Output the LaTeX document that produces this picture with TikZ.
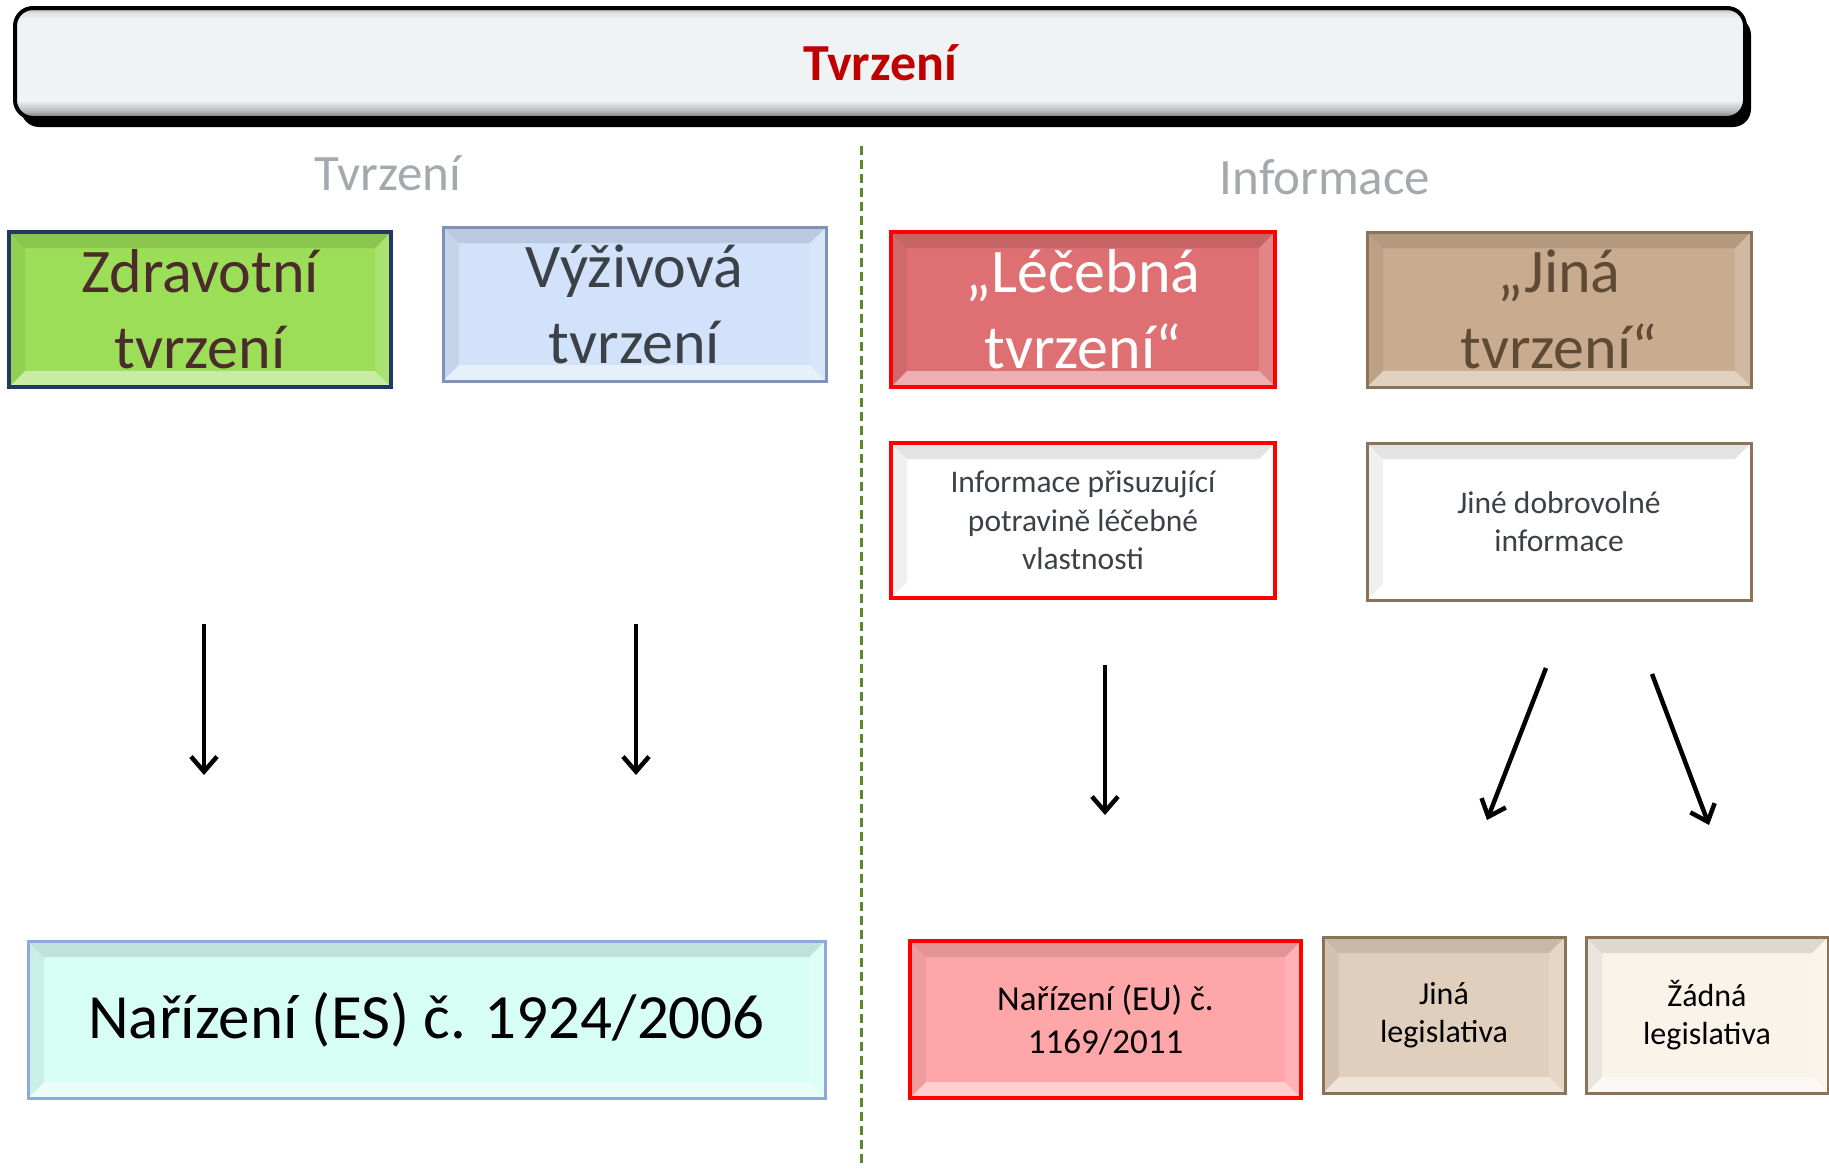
\documentclass[tikz,border=0pt]{standalone}
\usepackage{fontspec}
\setmainfont{Carlito}
\usetikzlibrary{arrows.meta,shadows}
\newcommand\myfs[2]{\fontsize{#1}{#2}\selectfont}
\definecolor{titlered}{HTML}{C00000}
\definecolor{hdrgray}{HTML}{A3AAAE}
\definecolor{grfill}{HTML}{9CDE58}
\definecolor{grline}{HTML}{1F3864}
\definecolor{grtext}{HTML}{4B2B2B}
\definecolor{blfill}{HTML}{D2E2FA}
\definecolor{blline}{HTML}{7F93B8}
\definecolor{dktext}{HTML}{3B4147}
\definecolor{rdfill}{HTML}{DE7073}
\definecolor{rdline}{HTML}{FF0000}
\definecolor{tnfill}{HTML}{C9AC8F}
\definecolor{tnline}{HTML}{8B7359}
\definecolor{tntext}{HTML}{5F4A35}
\definecolor{esfill}{HTML}{D7FEF5}
\definecolor{esline}{HTML}{8EA9DB}
\definecolor{eufill}{HTML}{FFA6A8}
\definecolor{jlfill}{HTML}{E1CFBD}
\definecolor{zlfill}{HTML}{FAF3EA}
\definecolor{dashgreen}{HTML}{5A8A2A}
\definecolor{bA}{HTML}{6E7072}
\definecolor{bB}{HTML}{B5B8BA}
\definecolor{bC}{HTML}{EFF3F4}
\definecolor{bD}{HTML}{DDE0E1}
\definecolor{bE}{HTML}{9FA2A4}
\pgfdeclareverticalshading{barshade}{100bp}{color(0bp)=(bA); color(25bp)=(bA); color(28bp)=(bB); color(33bp)=(bC); color(70bp)=(bC); color(73bp)=(bD); color(75bp)=(bE); color(100bp)=(bE)}
\tikzset{
  bev/.style={path picture={
    \fill[black,opacity=0.11] (path picture bounding box.north west) -- (path picture bounding box.north east) -- ([xshift=-#1,yshift=-#1]path picture bounding box.north east) -- ([xshift=#1,yshift=-#1]path picture bounding box.north west) -- cycle;
    \fill[white,opacity=0.45] (path picture bounding box.south west) -- (path picture bounding box.south east) -- ([xshift=-#1,yshift=#1]path picture bounding box.south east) -- ([xshift=#1,yshift=#1]path picture bounding box.south west) -- cycle;
    \fill[black,opacity=0.06] (path picture bounding box.north west) -- (path picture bounding box.south west) -- ([xshift=#1,yshift=#1]path picture bounding box.south west) -- ([xshift=#1,yshift=-#1]path picture bounding box.north west) -- cycle;
    \fill[white,opacity=0.15] (path picture bounding box.north east) -- (path picture bounding box.south east) -- ([xshift=-#1,yshift=#1]path picture bounding box.south east) -- ([xshift=-#1,yshift=-#1]path picture bounding box.north east) -- cycle;
  }},
  box/.style={draw, rectangle, inner sep=0pt, align=center, bev=16pt},
  hdr/.style={text=hdrgray, font=\myfs{51}{60}, inner sep=0pt},
  conn/.style={line width=4.5pt, -{Straight Barb[length=15pt,width=26pt]}},
}
\begin{document}
\begin{tikzpicture}[x=1pt,y=-1pt]
\useasboundingbox[fill=white] (0,0) rectangle (1829,1168);

% top bar
\node[draw=black, line width=4pt, rounded corners=18pt, shade, shading=barshade,
      drop shadow={shadow xshift=6pt, shadow yshift=-9pt, fill=black, opacity=1},
      minimum width=1730pt, minimum height=110pt, inner sep=0pt,
      text=titlered, font=\myfs{52}{60}\bfseries] (title) at (880,63) {Tvrzení};

% divider
\coordinate (divtop) at (861,146);
\coordinate (divbot) at (861,1166);
\draw[dashgreen, line width=3pt, dash pattern=on 9pt off 5pt] (divtop) -- (divbot);

% headers
\node[hdr] (h1) at (388,173) {Tvrzení};
\node[hdr] (h2) at (1325,177) {Informace};

% claim boxes
\node[box, fill=grfill, draw=grline, line width=4pt, minimum width=382pt, minimum height=155pt,
      text=grtext, font=\myfs{62}{76}] (zdr) at (200,309.5) {Zdravotní\\tvrzení};
\node[box, fill=blfill, draw=blline, line width=3pt, minimum width=383pt, minimum height=154pt,
      text=dktext, font=\myfs{62}{76}] (vyz) at (634.5,304) {Výživová\\tvrzení};
\node[box, fill=rdfill, draw=rdline, line width=4pt, minimum width=384pt, minimum height=155pt,
      text=white, font=\myfs{62}{76}] (lec) at (1083,309.5) {„Léčebná\\tvrzení“};
\node[box, fill=tnfill, draw=tnline, line width=3pt, minimum width=384pt, minimum height=155pt,
      text=tntext, font=\myfs{62}{76}] (jin) at (1559,309.5) {„Jiná\\tvrzení“};

% info boxes
\node[box, fill=white, draw=rdline, line width=4pt, minimum width=384pt, minimum height=155pt,
      text=dktext, font=\myfs{31.5}{38.5}] (inf1) at (1083,520.5) {Informace přisuzující\\potravině léčebné\\vlastnosti};
\node[box, fill=white, draw=tnline, line width=3pt, minimum width=384pt, minimum height=157pt,
      text=dktext, font=\myfs{31.5}{38.5}] (inf2) at (1559,521.5) {Jiné dobrovolné\\informace};

% legislation boxes
\node[box, fill=esfill, draw=esline, line width=3pt, minimum width=797pt, minimum height=157pt,
      text=black, font=\myfs{63}{72}] (es) at (426.5,1019.5) {Nařízení (ES) č. 1924/2006};
\node[box, fill=eufill, draw=rdline, line width=4pt, minimum width=391pt, minimum height=157pt,
      text=black, font=\myfs{35}{43}] (eu) at (1105.5,1019.5) {Nařízení (EU) č.\\1169/2011};
\node[box, fill=jlfill, draw=tnline, line width=3pt, minimum width=242pt, minimum height=156pt,
      text=black, font=\myfs{32}{38}] (jl) at (1444,1015) {Jiná\\legislativa};
\node[box, fill=zlfill, draw=tnline, line width=3pt, minimum width=242pt, minimum height=156pt,
      text=black, font=\myfs{32}{38}] (zl) at (1707,1015) {Žádná\\legislativa};

% arrows
\coordinate (a1s) at (204,624);  \coordinate (a1e) at (204,775);
\coordinate (a2s) at (636,624);  \coordinate (a2e) at (636,775);
\coordinate (a3s) at (1105,665); \coordinate (a3e) at (1105,815);
\coordinate (a4s) at (1546,668); \coordinate (a4e) at (1487,820);
\coordinate (a5s) at (1652,674); \coordinate (a5e) at (1709,825);
\draw[conn] (a1s) -- (a1e);
\draw[conn] (a2s) -- (a2e);
\draw[conn] (a3s) -- (a3e);
\draw[conn] (a4s) -- (a4e);
\draw[conn] (a5s) -- (a5e);
\end{tikzpicture}
\end{document}
